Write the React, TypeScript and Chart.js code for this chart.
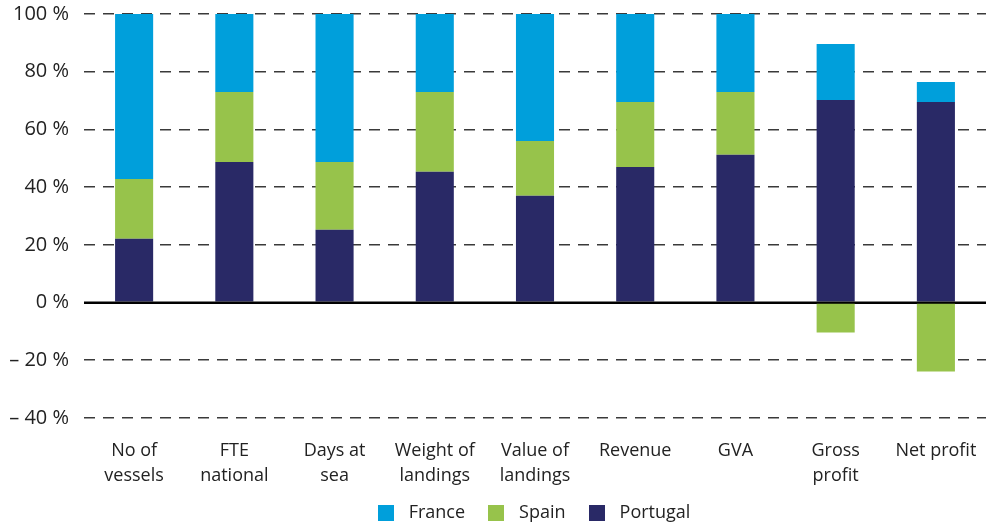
import React, { useEffect, useRef } from "react";
import { Chart, registerables } from "chart.js";

Chart.register(...registerables);

const categories: (string | string[])[] = [
  ["No of", "vessels"],
  ["FTE", "national"],
  ["Days at", "sea"],
  ["Weight of", "landings"],
  ["Value of", "landings"],
  "Revenue",
  "GVA",
  ["Gross", "profit"],
  "Net profit",
];

const portugal = [22.1, 48.7, 25.2, 45.3, 37.0, 47.0, 51.2, 70.2, 69.5];
const spain = [20.7, 24.3, 23.5, 27.7, 19.0, 22.5, 21.8, -10.4, -23.9];
const france = [57.2, 27.0, 51.3, 27.0, 44.0, 30.5, 27.0, 19.4, 6.9];

const yMin = -40;
const yMax = 100;
const yStep = 20;

const colors = { Portugal: "#292966", Spain: "#97C34B", France: "#009FDB" };

function swatch(color: string): HTMLCanvasElement {
  const c = document.createElement("canvas");
  c.width = 16;
  c.height = 16;
  const g = c.getContext("2d")!;
  g.fillStyle = color;
  g.fillRect(0, 0, 16, 16);
  return c;
}

export default function App() {
  const ref = useRef<HTMLCanvasElement | null>(null);

  useEffect(() => {
    if (!ref.current) return;
    const font = "'Open Sans', 'DejaVu Sans', sans-serif";

    const zeroLine = {
      id: "zeroLine",
      afterDatasetsDraw(chart: any) {
        const y = chart.scales.y.getPixelForValue(0);
        const { left, right } = chart.chartArea;
        const g = chart.ctx;
        g.save();
        g.strokeStyle = "#000";
        g.lineWidth = 2;
        g.beginPath();
        g.moveTo(left, y);
        g.lineTo(right, y);
        g.stroke();
        g.restore();
      },
    };

    const legendShift = {
      id: "legendShift",
      afterLayout(chart: any) {
        if (chart.legend) chart.legend.left = chart.chartArea.left - 8;
      },
    };

    const chart = new Chart(ref.current, {
      type: "bar",
      data: {
        labels: categories,
        datasets: [
          { label: "Portugal", data: portugal, backgroundColor: colors.Portugal, borderWidth: 0 },
          { label: "Spain", data: spain, backgroundColor: colors.Spain, borderWidth: 0 },
          { label: "France", data: france, backgroundColor: colors.France, borderWidth: 0 },
        ],
      },
      plugins: [zeroLine, legendShift],
      options: {
        animation: false,
        responsive: false,
        maintainAspectRatio: false,
        layout: { padding: { top: 0, right: 0, left: 9, bottom: 0 } },
        datasets: { bar: { barPercentage: 0.38, categoryPercentage: 1 } },
        plugins: {
          legend: {
            position: "bottom",
            reverse: true,
            labels: {
              usePointStyle: true,
              pointStyleWidth: 28,
              boxHeight: 16,
              padding: 17,
              color: "#222",
              font: { family: font, size: 18 },
              generateLabels: (ch: any) => {
                const items = Chart.defaults.plugins.legend.labels.generateLabels(ch);
                return items.map((it: any) => ({
                  ...it,
                  pointStyle: swatch((colors as any)[it.text]),
                  lineWidth: 0,
                }));
              },
            },
          },
          tooltip: { enabled: false },
        },
        scales: {
          x: {
            stacked: true,
            grid: { display: false, drawTicks: false },
            border: { display: false },
            ticks: {
              color: "#222",
              font: { family: font, size: 18, lineHeight: 1.4 },
              padding: 20,
              maxRotation: 0,
              autoSkip: false,
            },
            afterFit: (s: any) => {
              s.height = 69;
              s.paddingLeft = 0;
              s.paddingRight = 0;
            },
          },
          y: {
            stacked: true,
            min: yMin,
            max: yMax,
            ticks: {
              stepSize: yStep,
              color: "#222",
              font: { family: font, size: 20 },
              padding: 15,
              callback: (v: any) => (v < 0 ? "\u2013 " + Math.abs(v) + " %" : v + " %"),
            },
            afterFit: (s: any) => {
              s.width = 75;
              s.paddingTop = 14;
              s.paddingBottom = 0;
            },
            grid: {
              drawTicks: false,
              color: (c: any) => (c.tick && c.tick.value === 0 ? "#000" : "#3a3a3a"),
              lineWidth: (c: any) => (c.tick && c.tick.value === 0 ? 2 : 1.6),
            },
            border: {
              display: false,
              dash: (c: any) => (c.tick && c.tick.value === 0 ? [] : [11, 8]),
            },
          },
        },
      },
    });
    return () => chart.destroy();
  }, []);

  return (
    <div style={{ position: "fixed", left: 0, top: 0, width: 986, height: 526, overflow: "hidden", background: "#fff" }}>
      <canvas ref={ref} width={986} height={532} style={{ width: 986, height: 532, display: "block" }} />
    </div>
  );
}
